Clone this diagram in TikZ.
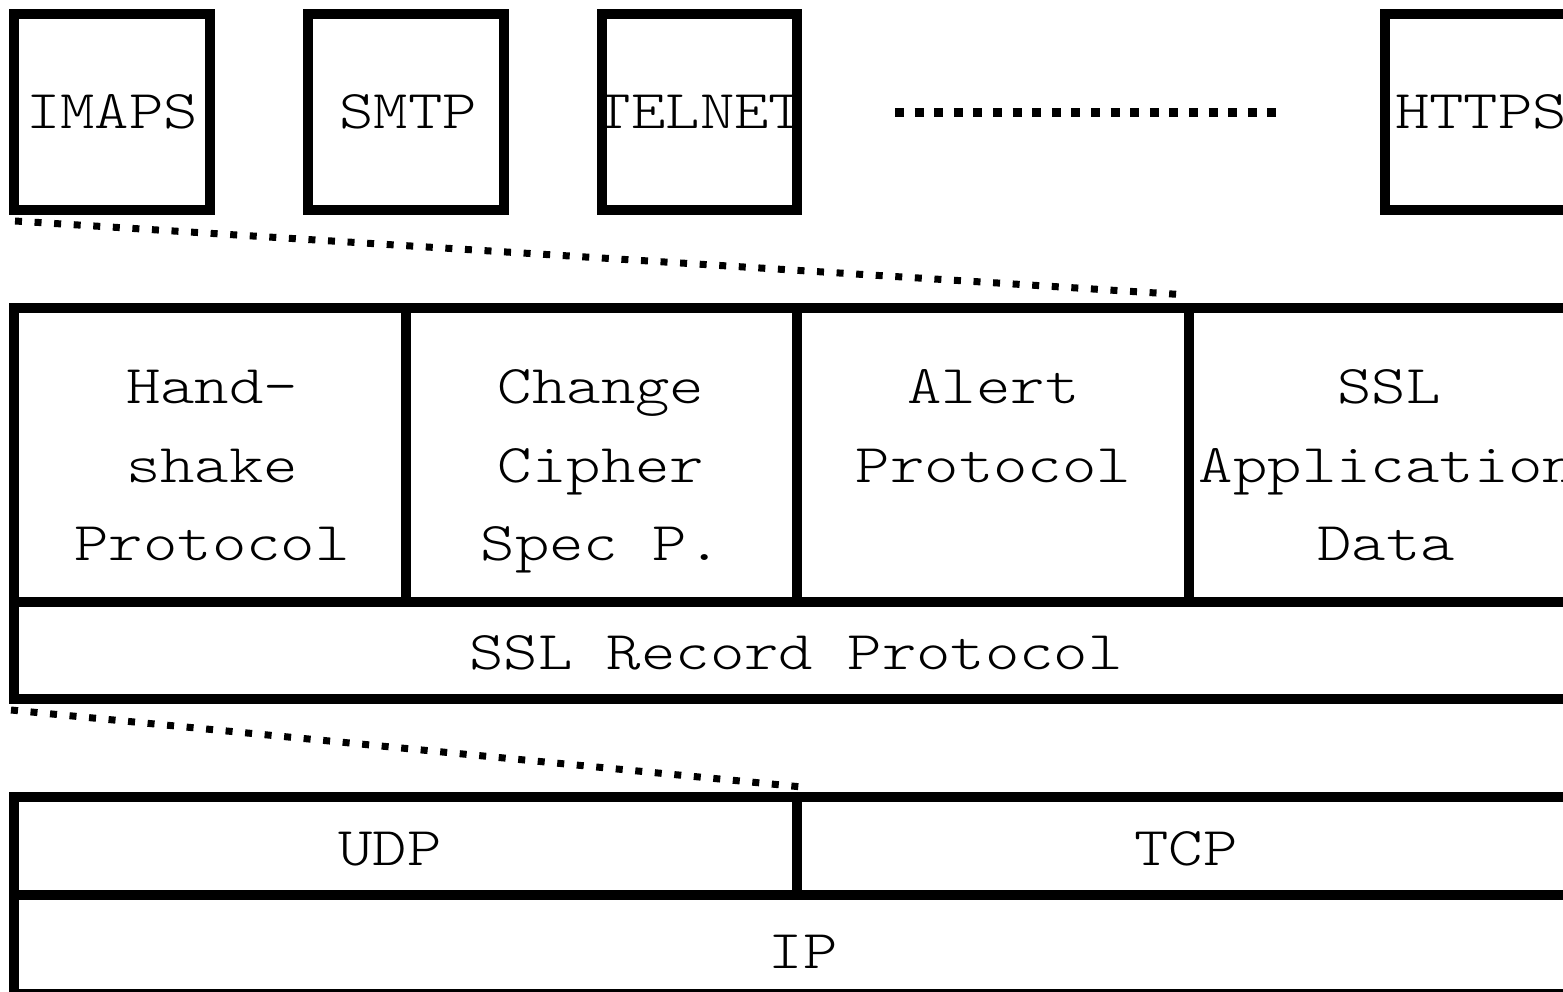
\documentclass[tikz,border=0pt]{standalone}
\usepackage{fontspec}
\newfontfamily\diagmono[FakeStretch=1.2]{Latin Modern Mono Light}
\begin{document}
\begin{tikzpicture}[x=0.5pt,y=-0.5pt,
  frame/.style={draw, line width=5pt, inner sep=0pt, rectangle},
  lbl/.style={font=\diagmono\fontsize{27.3}{39}\selectfont, inner sep=0pt, anchor=base},
  bigdots/.style={line width=4.5pt, dash pattern=on 4.5pt off 5.3pt},
  diagdots/.style={line width=3.5pt, dash pattern=on 3.5pt off 6.3pt}]
\useasboundingbox (0,0) rectangle (1563,991);
\clip (0,0) rectangle (1563,991);

% ---- labels of application boxes (drawn first, borders overlay them)
\node[lbl] (timaps) at (112,128) {IMAPS};
\node[lbl] (tsmtp) at (408,128) {SMTP};
\node[lbl] (ttelnet) at (700,128) {TELNET};
\node[lbl] (thttps) at (1481,128) {HTTPS};

% ---- application boxes
\node[frame, minimum width=98pt, minimum height=98pt] (imaps) at (112,112) {};
\node[frame, minimum width=98pt, minimum height=98pt] (smtp) at (406,112) {};
\node[frame, minimum width=97.5pt, minimum height=98pt] (telnet) at (699.5,112) {};
\node[frame, minimum width=98pt, minimum height=98pt] (https) at (1483,112) {};

\coordinate (dotsL) at (895,112);
\coordinate (dotsR) at (1278,112);
\draw[bigdots] (dotsL) -- (dotsR);

% ---- SSL layer
\node[frame, minimum width=196pt, minimum height=147pt] (hs) at (210,455) {};
\node[frame, minimum width=195.5pt, minimum height=147pt] (ccs) at (601.5,455) {};
\node[frame, minimum width=196pt, minimum height=147pt] (alert) at (993,455) {};
\node[frame, minimum width=198pt, minimum height=147pt] (appdata) at (1387,455) {};
\node[frame, minimum width=785.5pt, minimum height=48.5pt] (record) at (799.5,650.5) {};

\node[lbl] (hs1) at (212,403) {Hand-};
\node[lbl] (hs2) at (212,482) {shake};
\node[lbl] (hs3) at (212,560) {Protocol};
\node[lbl] (cc1) at (601,403) {Change};
\node[lbl] (cc2) at (601,482) {Cipher};
\node[lbl] (cc3) at (601,560) {Spec P.};
\node[lbl] (al1) at (993.5,403) {Alert};
\node[lbl] (al2) at (993.5,482) {Protocol};
\node[lbl] (ad1) at (1389,403) {SSL};
\node[lbl] (ad2) at (1388,482) {Application};
\node[lbl] (ad3) at (1386,560) {Data};
\node[lbl] (rec) at (796,669) {SSL Record Protocol};

% ---- transport layer
\node[frame, minimum width=391.5pt, minimum height=49pt] (udp) at (405.5,846) {};
\node[frame, minimum width=394pt, minimum height=49pt] (tcp) at (1191,846) {};
\node[frame, minimum width=785.5pt, minimum height=49.5pt] (ip) at (799.5,944.5) {};
\node[lbl] (tudp) at (390,865) {UDP};
\node[lbl] (ttcp) at (1186,865) {TCP};
\node[lbl] (tip) at (803,968) {IP};

% ---- dotted connectors
\coordinate (c1a) at ([xshift=3pt,yshift=-3pt]imaps.south west);
\coordinate (c1b) at ([xshift=-3pt,yshift=4pt]alert.north east);
\draw[diagdots] (c1a) -- (c1b);
\coordinate (c2a) at ([xshift=1pt,yshift=-3pt]record.south west);
\coordinate (c2b) at ([yshift=2.5pt]udp.north east);
\draw[diagdots] (c2a) -- (c2b);
\end{tikzpicture}
\end{document}
